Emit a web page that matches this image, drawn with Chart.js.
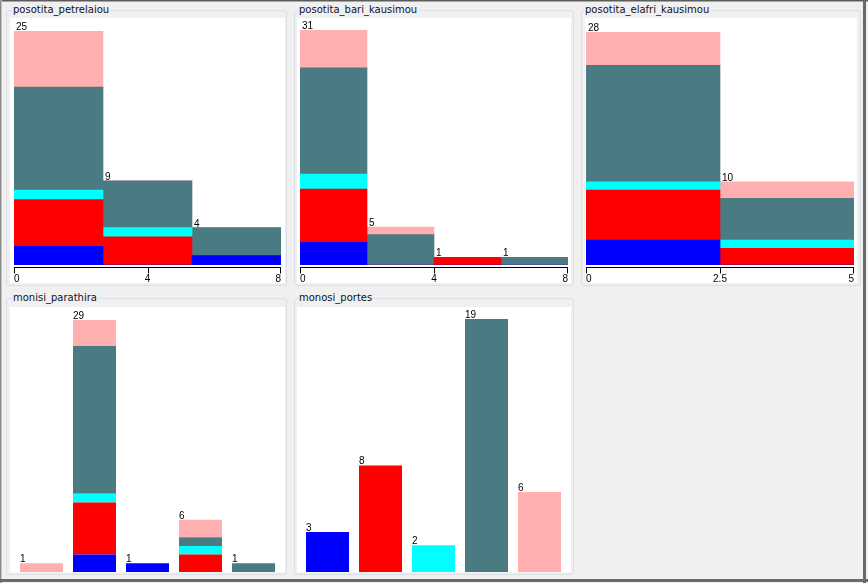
<!DOCTYPE html>
<html>
<head>
<meta charset="utf-8">
<script src="https://cdn.jsdelivr.net/npm/chart.js@4/dist/chart.umd.min.js"></script>
<style>
body{margin:0;background:#f0f0f0;width:868px;height:583px;position:relative;overflow:hidden;font-family:"DejaVu Sans",sans-serif}
.box{position:absolute;border:1px solid #d9dfe4;border-radius:3px;box-sizing:border-box}
.ttl{position:absolute;font-size:10px;line-height:12px;background:#f0f0f0;padding:0 2px 0 1px;color:#10102a;white-space:nowrap}
.plot{position:absolute;background:#fff}
.plot canvas{position:absolute;left:0;top:0}
.ln{position:absolute}
</style>
</head>
<body>
<div class="ln" style="left:0;top:0;width:868px;height:1px;background:#5c5c5c"></div>
<div class="ln" style="left:0;top:1px;width:868px;height:1px;background:#a6a6a6"></div>
<div class="ln" style="left:0;top:0;width:1px;height:583px;background:#8a8a8a"></div>
<div class="ln" style="left:1px;top:0;width:1px;height:583px;background:#c4c4c4"></div>
<div class="ln" style="left:863px;top:0;width:3px;height:583px;background:#6a6a6a"></div>
<div class="ln" style="left:0;top:579px;width:868px;height:3px;background:#6a6a6a"></div>
<div id="root"></div>
<script>
// class colours (weka default colour list)
const classColors = ['#0000ff', '#ff0000', '#00ffff', 'rgb(75,123,130)', 'rgb(255,175,175)'];

// posotita_petrelaiou: 3 bins over 0..8
const petrelaiouBins = ['0-2.67', '2.67-5.33', '5.33-8'];
const petrelaiouCounts = [[2, 0, 1], [5, 3, 0], [1, 1, 0], [11, 5, 3], [6, 0, 0]];
const petrelaiouTicks = [0, 4, 8];

// posotita_bari_kausimou: 4 bins over 0..8
const bariBins = ['0-2', '2-4', '4-6', '6-8'];
const bariCounts = [[3, 0, 0, 0], [7, 0, 1, 0], [2, 0, 0, 0], [14, 4, 0, 1], [5, 1, 0, 0]];
const bariTicks = [0, 4, 8];

// posotita_elafri_kausimou: 2 bins over 0..5
const elafriBins = ['0-2.5', '2.5-5'];
const elafriCounts = [[3, 0], [6, 2], [1, 1], [14, 5], [4, 2]];
const elafriTicks = [0, 2.5, 5];

// monisi_parathira: 5 nominal values
const parathiraValues = ['v1', 'v2', 'v3', 'v4', 'v5'];
const parathiraCounts = [[0, 2, 1, 0, 0], [0, 6, 0, 2, 0], [0, 1, 0, 1, 0], [0, 17, 0, 1, 1], [1, 3, 0, 2, 0]];

// monosi_portes: 5 nominal values
const portesValues = ['v1', 'v2', 'v3', 'v4', 'v5'];
const portesCounts = [[3, 0, 0, 0, 0], [0, 8, 0, 0, 0], [0, 0, 2, 0, 0], [0, 0, 0, 19, 0], [0, 0, 0, 0, 6]];

const panels = [
  { title: 'posotita_petrelaiou', box: [6, 10, 281, 276], ttl: [12, 4], plot: [10, 18, 275, 265], pad: [4, 4, 13, 18],
    cats: petrelaiouBins, counts: petrelaiouCounts, ticks: petrelaiouTicks, bar: 1, dx: 2 },
  { title: 'posotita_bari_kausimou', box: [294, 10, 280, 276], ttl: [298, 4], plot: [297, 18, 274, 265], pad: [3, 3, 12, 18],
    cats: bariBins, counts: bariCounts, ticks: bariTicks, bar: 1, dx: 2 },
  { title: 'posotita_elafri_kausimou', box: [581, 10, 280, 276], ttl: [584, 4], plot: [585, 18, 272, 265], pad: [1, 3, 14, 18],
    cats: elafriBins, counts: elafriCounts, ticks: elafriTicks, bar: 1, dx: 2 },
  { title: 'monisi_parathira', box: [6, 298, 281, 277], ttl: [12, 292], plot: [10, 307, 275, 265], pad: [5, 5, 13, 0],
    cats: parathiraValues, counts: parathiraCounts, ticks: null, bar: 43 / 53, dx: 0 },
  { title: 'monosi_portes', box: [294, 298, 280, 277], ttl: [298, 292], plot: [297, 307, 274, 265], pad: [4, 5, 12, 0],
    cats: portesValues, counts: portesCounts, ticks: null, bar: 43 / 53, dx: 0 }
];

const labelFont = '10px "Liberation Sans Narrow", "Liberation Sans", sans-serif';

const wekaPlugin = {
  id: 'weka',
  afterDatasetsDraw(chart, args, opts) {
    const ctx = chart.ctx;
    const ds = chart.data.datasets;
    ctx.save();
    ctx.fillStyle = '#000';
    ctx.font = labelFont;
    ctx.textBaseline = 'alphabetic';
    ctx.textAlign = 'left';
    chart.data.labels.forEach((lab, i) => {
      let tot = 0;
      ds.forEach(d => tot += d.data[i]);
      if (!tot) return;
      const el = chart.getDatasetMeta(0).data[i];
      const y = chart.scales.y.getPixelForValue(tot);
      ctx.fillText(String(tot), el.x - el.width / 2 + opts.dx, y - 1);
    });
    if (opts.ticks) {
      const xs = chart.scales.x2;
      const y0 = chart.chartArea.bottom + 2.5;
      const n = opts.ticks.length;
      ctx.strokeStyle = '#000';
      ctx.lineWidth = 1;
      ctx.beginPath();
      ctx.moveTo(xs.getPixelForValue(opts.ticks[0]), y0);
      ctx.lineTo(xs.getPixelForValue(opts.ticks[n - 1]), y0);
      opts.ticks.forEach((v, k) => {
        let x = Math.round(xs.getPixelForValue(v));
        if (k === n - 1) x -= 1;
        ctx.moveTo(x + 0.5, y0);
        ctx.lineTo(x + 0.5, y0 + 6);
      });
      ctx.stroke();
      opts.ticks.forEach((v, k) => {
        ctx.textAlign = k === 0 ? 'left' : (k === n - 1 ? 'right' : 'center');
        ctx.fillText(String(v), xs.getPixelForValue(v), y0 + 14);
      });
    }
    ctx.restore();
  }
};

const root = document.getElementById('root');
panels.forEach(p => {
  const box = document.createElement('div');
  box.className = 'box';
  box.style.cssText = `left:${p.box[0]}px;top:${p.box[1]}px;width:${p.box[2]}px;height:${p.box[3]}px`;
  root.appendChild(box);
  const ttl = document.createElement('div');
  ttl.className = 'ttl';
  ttl.style.cssText = `left:${p.ttl[0]}px;top:${p.ttl[1]}px`;
  ttl.textContent = p.title;
  root.appendChild(ttl);
  const plot = document.createElement('div');
  plot.className = 'plot';
  plot.style.cssText = `left:${p.plot[0]}px;top:${p.plot[1]}px;width:${p.plot[2]}px;height:${p.plot[3]}px`;
  const cv = document.createElement('canvas');
  cv.width = p.plot[2];
  cv.height = p.plot[3];
  plot.appendChild(cv);
  root.appendChild(plot);

  const totals = p.cats.map((c, i) => p.counts.reduce((s, row) => s + row[i], 0));
  const scales = {
    x: { type: 'category', stacked: true, display: false },
    y: { stacked: true, display: false, min: 0, max: Math.max(...totals) }
  };
  if (p.ticks) {
    // value axis for the histogram bins, drawn by the plugin
    scales.x2 = {
      type: 'linear', axis: 'x', position: 'bottom', display: false, offset: false,
      min: p.ticks[0], max: p.ticks[p.ticks.length - 1]
    };
  }
  new Chart(cv, {
    type: 'bar',
    data: {
      labels: p.cats,
      datasets: p.counts.map((row, k) => ({
        label: 'class ' + (k + 1),
        data: row,
        backgroundColor: classColors[k],
        borderWidth: 0,
        barPercentage: p.bar,
        categoryPercentage: 1
      }))
    },
    options: {
      responsive: false,
      animation: false,
      devicePixelRatio: 1,
      layout: { padding: { left: p.pad[0], right: p.pad[1], top: p.pad[2], bottom: p.pad[3] } },
      scales: scales,
      plugins: {
        legend: { display: false },
        tooltip: { enabled: false },
        weka: { ticks: p.ticks, dx: p.dx }
      }
    },
    plugins: [wekaPlugin]
  });
});
</script>
</body>
</html>
